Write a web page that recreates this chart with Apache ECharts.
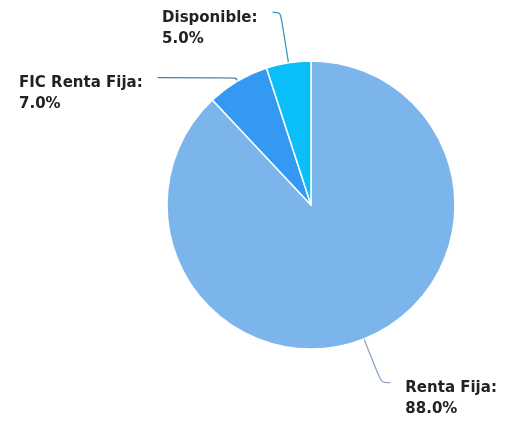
<!DOCTYPE html>
<html><head><meta charset="utf-8">
<script src="https://cdn.jsdelivr.net/npm/echarts@6/dist/echarts.min.js"></script>
<style>html,body{margin:0;padding:0;background:#fff}#c{width:506px;height:427px}</style>
</head><body><div id="c"></div>
<script>
const categories = ['Renta Fija', 'FIC Renta Fija', 'Disponible'];
const values = [88.0, 7.0, 5.0];
const colors = ['#7cb5ec', '#3399f3', '#0abff7'];
const lineColors = ['#8ea6c4', '#4f7fa6', '#2f9fbf'];
const lens = [[47, 9], [4, 78], [51, 8]];

const chart = echarts.init(document.getElementById('c'));
chart.setOption({
  animation: false,
  series: [{
    type: 'pie',
    center: [311, 205],
    radius: [0, 144],
    startAngle: 90,
    clockwise: true,
    avoidLabelOverlap: false,
    itemStyle: { borderColor: '#fff', borderWidth: 1.5 },
    label: {
      show: true,
      position: 'outside',
      formatter: p => p.name + ':\n' + p.value.toFixed(1) + '%',
      fontFamily: 'DejaVu Sans',
      fontWeight: 'bold',
      fontSize: 15,
      lineHeight: 21,
      color: '#222',
      padding: [32, 15, 0, 15]
    },
    labelLine: { show: true, smooth: 0.3, lineStyle: { width: 1.3 } },
    labelLayout: function (params) {
      const pts = params.labelLinePoints;
      if (!pts) return {};
      const end = pts[pts.length - 1];
      const left = end[0] < pts[0][0];
      return {
        x: left ? end[0] - params.labelRect.width : end[0],
        y: end[1] - params.labelRect.height / 2,
        align: 'left',
        verticalAlign: 'top'
      };
    },
    data: categories.map((c, i) => ({
      name: c, value: values[i],
      itemStyle: { color: colors[i] },
      labelLine: { length: lens[i][0], length2: lens[i][1], lineStyle: { color: lineColors[i] } }
    }))
  }]
});
</script></body></html>
